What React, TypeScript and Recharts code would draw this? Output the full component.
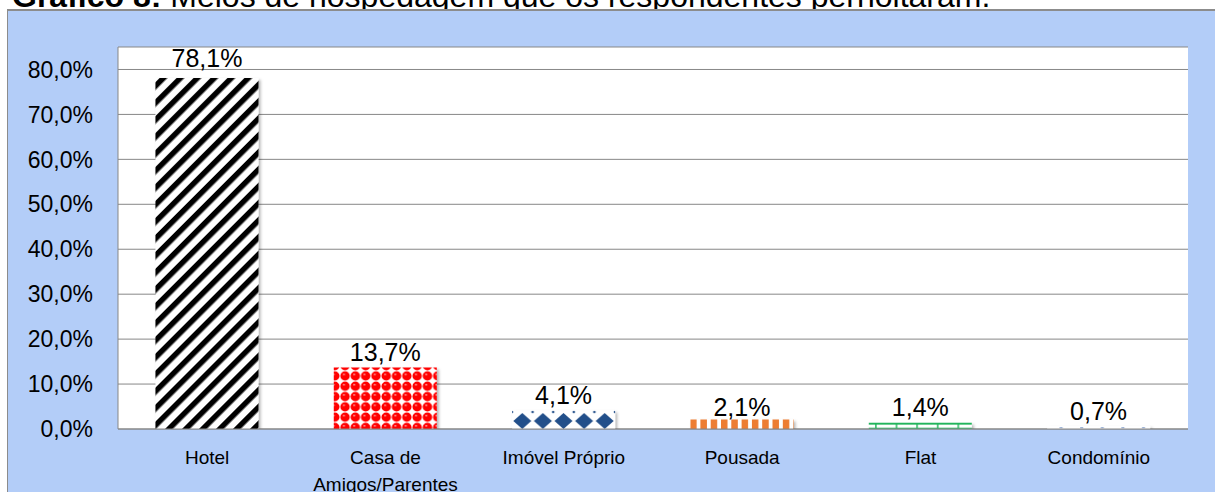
import React from 'react';
import { BarChart, Bar, XAxis, YAxis, CartesianGrid, Cell, LabelList, Text } from 'recharts';

const CATEGORIES = ['Hotel', 'Casa de Amigos/Parentes', 'Imóvel Próprio', 'Pousada', 'Flat', 'Condomínio'];
const VALUES = [78.1, 13.7, 4.1, 2.1, 1.4, 0.7];
const Y_TICKS = [0, 10, 20, 30, 40, 50, 60, 70, 80];
const PATTERN_IDS = ['pat-hotel', 'pat-casa', 'pat-imovel', 'pat-pousada', 'pat-flat', 'pat-condo'];
const LABEL_GAPS = [11, 6, 7, 4, 7, 6];

const data = CATEGORIES.map((name, i) => ({ name, value: VALUES[i] }));

const FONT = '"Liberation Sans", Arial, sans-serif';
const fmt = (v: number) => v.toFixed(1).replace('.', ',') + '%';

const XTick = (props: any) => {
  const { x, y, payload } = props;
  return (
    <Text
      x={x}
      y={y}
      width={170}
      textAnchor="middle"
      verticalAnchor="start"
      lineHeight={27}
      fontSize={19}
      fontFamily={FONT}
      fill="#000"
      style={{ fontSize: 19, fontFamily: FONT }}
    >
      {payload.value}
    </Text>
  );
};

const BarLabel = (props: any) => {
  const { x, y, width, value, index } = props;
  return (
    <text
      x={x + width / 2}
      y={y - LABEL_GAPS[index]}
      textAnchor="middle"
      fontSize={25}
      fontFamily={FONT}
      fill="#000"
    >
      {fmt(value)}
    </text>
  );
};

export default function App() {
  return (
    <div style={{ position: 'absolute', left: 0, top: 0, width: 1215, height: 492, overflow: 'hidden', background: '#fff' }}>
      <svg width={1215} height={20} style={{ position: 'absolute', left: 0, top: 0 }}>
        <text x={12} y={7} fontSize={32} fontFamily={FONT} fill="#000">
          <tspan fontWeight="bold">Gráfico 8:</tspan> Meios de hospedagem que os respondentes pernoitaram.
        </text>
      </svg>
      <div
        style={{
          position: 'absolute',
          left: 7,
          top: 9,
          width: 1230,
          height: 500,
          background: '#b3cdf8',
          borderLeft: '1px solid #8c8c8c',
          borderTop: '2px solid #8c8c8c',
          boxSizing: 'border-box',
        }}
      />
      <div style={{ position: 'absolute', left: 0, top: 0 }}>
        <BarChart
          width={1215}
          height={492}
          data={data}
          margin={{ top: 47, right: 27, bottom: 0, left: 0 }}
          barCategoryGap="21%"
        >
          <defs>
            <pattern id="pat-hotel" patternUnits="userSpaceOnUse" width={12} height={12} patternTransform="rotate(45)">
              <rect x={0} y={0} width={12} height={12} fill="#fff" />
              <rect x={0} y={0} width={5.5} height={12} fill="#000" />
            </pattern>
            <pattern id="pat-casa" patternUnits="userSpaceOnUse" width={10.3} height={10.3}>
              <rect x={0} y={0} width={10.3} height={10.3} fill="#fff" />
              <circle cx={5.15} cy={5.15} r={4.7} fill="#ff0000" />
              <rect x={3} y={3} width={2} height={1.2} fill="#ffb0b0" />
            </pattern>
            <pattern id="pat-imovel" patternUnits="userSpaceOnUse" width={20.6} height={20} x={17.6} y={9}>
              <rect x={0} y={0} width={20.6} height={20} fill="#fff" />
              <polygon points="10.3,4 19.3,12 10.3,20 1.3,12" fill="#24508a" />
              <polygon points="0,1.5 1.6,3 0,4.5" fill="#24508a" />
              <polygon points="20.6,1.5 19,3 20.6,4.5" fill="#24508a" />
            </pattern>
            <pattern id="pat-pousada" patternUnits="userSpaceOnUse" width={10.3} height={10}>
              <rect x={0} y={0} width={10.3} height={10} fill="#fff" />
              <rect x={0} y={0} width={6.5} height={10} fill="#ed7d31" />
            </pattern>
            <pattern id="pat-flat" patternUnits="userSpaceOnUse" width={20.6} height={6.5} y={423}>
              <rect x={0} y={0} width={20.6} height={6.5} fill="#fff" />
              <rect x={0} y={0} width={20.6} height={1.6} fill="#1fb45a" />
              <rect x={0} y={4.8} width={20.6} height={1.7} fill="#1fb45a" />
              <rect x={10} y={0} width={1.4} height={6.5} fill="#1fb45a" />
            </pattern>
            <pattern id="pat-condo" patternUnits="userSpaceOnUse" width={20.6} height={4} y={426}>
              <rect x={0} y={0} width={20.6} height={4} fill="#fff" />
              <rect x={9} y={1} width={3} height={1.3} fill="#9db3d6" />
            </pattern>
            <filter id="bar-shadow" x="-10%" y="-10%" width="130%" height="130%">
              <feDropShadow dx={2} dy={2} stdDeviation={1.5} floodColor="#000" floodOpacity={0.3} />
            </filter>
          </defs>
          <CartesianGrid vertical={false} stroke="#878787" strokeWidth={1} fill="#fff" />
          <XAxis
            dataKey="name"
            interval={0}
            height={63}
            tickLine={false}
            tickSize={0}
            tickMargin={22}
            axisLine={{ stroke: '#878787' }}
            tick={<XTick />}
          />
          <YAxis
            width={118}
            domain={[0, 85]}
            ticks={Y_TICKS}
            allowDataOverflow
            tickLine={false}
            tickSize={0}
            tickMargin={25}
            axisLine={{ stroke: '#878787' }}
            tickFormatter={(v: number) => fmt(v)}
            tick={{ fontSize: 23, fontFamily: FONT, fill: '#000' }}
          />
          <Bar dataKey="value" isAnimationActive={false}>
            {data.map((d, i) => (
              <Cell key={d.name} fill={`url(#${PATTERN_IDS[i]})`} filter="url(#bar-shadow)" />
            ))}
            <LabelList dataKey="value" content={<BarLabel />} />
          </Bar>
        </BarChart>
      </div>
    </div>
  );
}
